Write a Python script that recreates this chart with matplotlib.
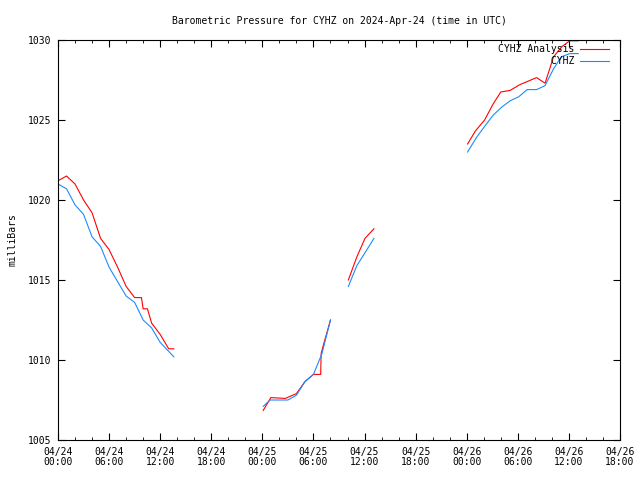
import numpy as np
import matplotlib
matplotlib.use("Agg")
import matplotlib.pyplot as plt

# hours since 2024-04-24 00:00 UTC, NaN = gap in the record
analysis_hours = [0, 1, 2, 3, 4, 5, 6, 7, 8, 9, 9.8, 10, 10.5, 11, 12, 13, 13.6, np.nan,
                  24.1, 25, 26.7, 28, 29, 30, 30.85, 30.9, 31.2, 32, np.nan,
                  34.1, 35.1, 36.05, 37.1, np.nan,
                  48.1, 49, 50.1, 51.1, 52, 53.1, 54.2, 56.2, 57.2, 58.2, 59.2, 60.1, 61.1]
analysis_mb = [1021.2, 1021.5, 1021.0, 1020.0, 1019.2, 1017.6, 1016.9, 1015.8, 1014.6, 1013.9,
               1013.9, 1013.2, 1013.2, 1012.3, 1011.6, 1010.7, 1010.7, np.nan,
               1006.85, 1007.65, 1007.6, 1007.9, 1008.65, 1009.1, 1009.1, 1010.4, 1011.0, 1012.5, np.nan,
               1015.0, 1016.45, 1017.6, 1018.2, np.nan,
               1023.5, 1024.3, 1025.0, 1026.0, 1026.75, 1026.85, 1027.2, 1027.65, 1027.3,
               1028.95, 1029.6, 1029.95, 1029.95]

obs_hours = [0, 1, 2, 3, 4, 5, 6, 7, 8, 9, 10, 11, 12, 13.6, np.nan,
             24.1, 24.9, 27, 28, 29, 30, 31, 32, np.nan,
             34.1, 35.1, 36.05, 37.1, np.nan,
             48.1, 49.2, 50.1, 51.1, 52.1, 53.1, 54.1, 55.1, 56.2, 57.2, 58.2, 59.1, 60.1, 61.1]
obs_mb = [1021.0, 1020.7, 1019.7, 1019.1, 1017.7, 1017.1, 1015.8, 1014.9, 1014.0, 1013.6,
          1012.5, 1012.0, 1011.1, 1010.2, np.nan,
          1007.1, 1007.5, 1007.5, 1007.8, 1008.65, 1009.1, 1010.4, 1012.5, np.nan,
          1014.6, 1015.9, 1016.7, 1017.6, np.nan,
          1023.0, 1023.95, 1024.6, 1025.3, 1025.8, 1026.2, 1026.45, 1026.9, 1026.9,
          1027.15, 1028.2, 1028.95, 1029.15, 1029.15]

tick_hours = list(range(0, 67, 6))
tick_labels = ["04/24\n00:00", "04/24\n06:00", "04/24\n12:00", "04/24\n18:00",
               "04/25\n00:00", "04/25\n06:00", "04/25\n12:00", "04/25\n18:00",
               "04/26\n00:00", "04/26\n06:00", "04/26\n12:00", "04/26\n18:00"]

plt.rcParams['font.family'] = ['DejaVu Sans Mono']
plt.rcParams['font.size'] = 7

fig = plt.figure(figsize=(6.4, 4.8), dpi=100)
ax = fig.add_axes([58 / 640, 40 / 480, 562 / 640, 400 / 480])

# monospace font, so pad the short label to right-align it like gnuplot does
ax.plot(analysis_hours, analysis_mb, color="#ff0000", lw=0.8, label="CYHZ Analysis")
ax.plot(obs_hours, obs_mb, color="#1a8cff", lw=0.8, label="         CYHZ")

ax.set_xlim(0, 66)
ax.set_ylim(1005, 1030)
ax.set_xticks(tick_hours)
ax.set_xticklabels(tick_labels, linespacing=1.0)
ax.set_xticks(range(0, 67, 2), minor=True)
ax.set_yticks(range(1005, 1031, 5))

ax.tick_params(which="both", direction="in", top=True, right=True, color="black")
ax.tick_params(axis="x", which="major", length=5, pad=5)
ax.tick_params(axis="x", which="minor", length=2.5)
ax.tick_params(axis="y", which="major", length=5, pad=4.5)
for s in ax.spines.values():
    s.set_linewidth(0.8)

ax.set_title("Barometric Pressure for CYHZ on 2024-Apr-24 (time in UTC)", fontsize=7, pad=11.5)
ax.set_ylabel("milliBars", labelpad=8)

ax.legend(loc="upper right", frameon=False, markerfirst=False,
          bbox_to_anchor=(1 - 11 / 562, 1 - 4 / 400), borderaxespad=0, borderpad=0,
          handlelength=3.0, handletextpad=0.6, labelspacing=0.25)

fig.savefig("out.png", dpi=100)
